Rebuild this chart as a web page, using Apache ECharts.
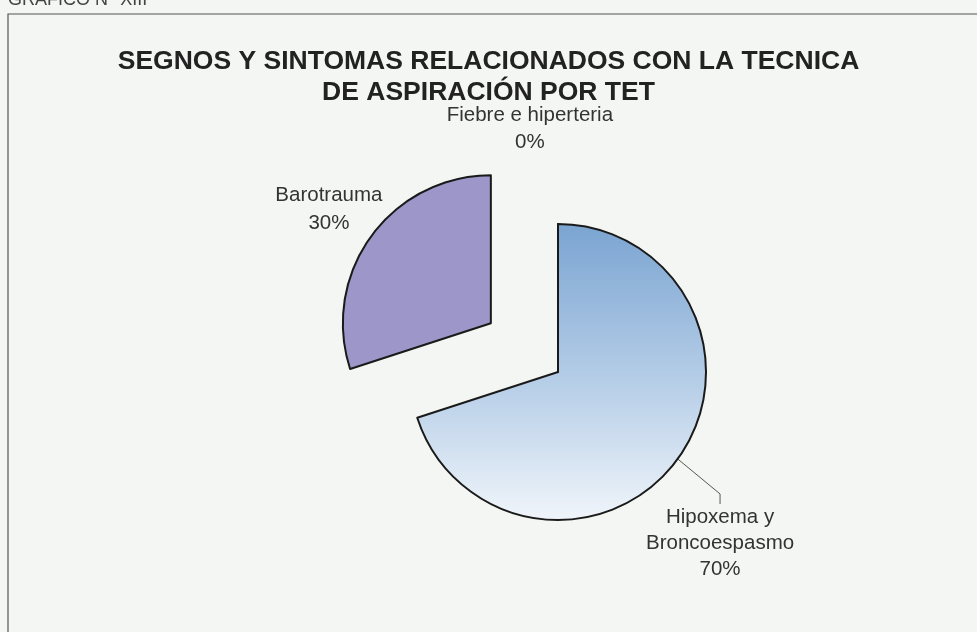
<!DOCTYPE html>
<html><head><meta charset="utf-8">
<script src="https://cdn.jsdelivr.net/npm/echarts@6/dist/echarts.min.js"></script>
<style>html,body{margin:0;padding:0;background:#f4f6f3;}#c{width:977px;height:632px;}</style>
</head><body><div id="c"></div>
<script>
const categories = ['Hipoxema y\nBroncoespasmo', 'Barotrauma', 'Fiebre e hiperteria'];
const values = [70, 30, 0];
const titleLines = ['SEGNOS Y SINTOMAS RELACIONADOS CON LA TECNICA', 'DE ASPIRACIÓN POR TET'];
const caption = 'GRAFICO N° XIII';

const CX = 558, CY = 372, R = 148;
// label anchor positions relative to pie centre, in radius units (layout only)
const labelPos = [[1.095, 1.155], null, [-0.19, -1.645]];
const labelLH = [26, 28, 27];

const chart = echarts.init(document.getElementById('c'), null, {renderer: 'canvas'});
const colors = [
  {type: 'linear', x: 0, y: 0, x2: 0, y2: 1, colorStops: [{offset: 0, color: '#7aa4d1'}, {offset: 0.55, color: '#b8cfe8'}, {offset: 1, color: '#f0f5fa'}]},
  '#9d96c8',
  '#cccccc'
];
chart.setOption({
  backgroundColor: '#f4f6f3',
  animation: false,
  title: {
    text: titleLines.join('\n'),
    left: 'center', top: 41,
    textStyle: {fontFamily: 'Liberation Sans, Arial', fontSize: 26.5, fontWeight: 'bold', color: '#222', lineHeight: 31}
  },
  graphic: [
    {type: 'rect', shape: {x: 8, y: 14, width: 1000, height: 700}, style: {fill: 'none', stroke: '#555', lineWidth: 1.2}},
    {type: 'text', left: 8, top: -9, style: {text: caption, font: '18px Liberation Sans, Arial', fill: '#444'}}
  ],
  series: [{
    type: 'pie',
    center: [CX, CY],
    radius: R,
    startAngle: 90,
    clockwise: true,
    selectedMode: 'multiple',
    selectedOffset: 83,
    avoidLabelOverlap: false,
    itemStyle: {borderColor: '#1a1a1a', borderWidth: 2},
    label: {
      show: true, position: 'outside',
      formatter: '{b}\n{d}%',
      fontFamily: 'Liberation Sans, Arial', fontSize: 20.5, color: '#333', align: 'center'
    },
    labelLine: {show: true, lineStyle: {color: '#555', width: 1}, length: 20, length2: 10},
    labelLayout: function (p) {
      const lp = labelPos[p.dataIndex];
      if (!lp) return {align: 'center', verticalAlign: 'middle'};
      return {x: CX + lp[0] * R, y: CY + lp[1] * R, align: 'center', verticalAlign: 'middle'};
    },
    data: categories.map((c, i) => ({
      name: c, value: values[i], selected: i === 1,
      itemStyle: {color: colors[i]},
      label: {lineHeight: labelLH[i]},
      labelLine: i === 1 ? {show: false, length: 46, length2: 0} : {show: i === 0}
    }))
  }]
});
</script></body></html>
